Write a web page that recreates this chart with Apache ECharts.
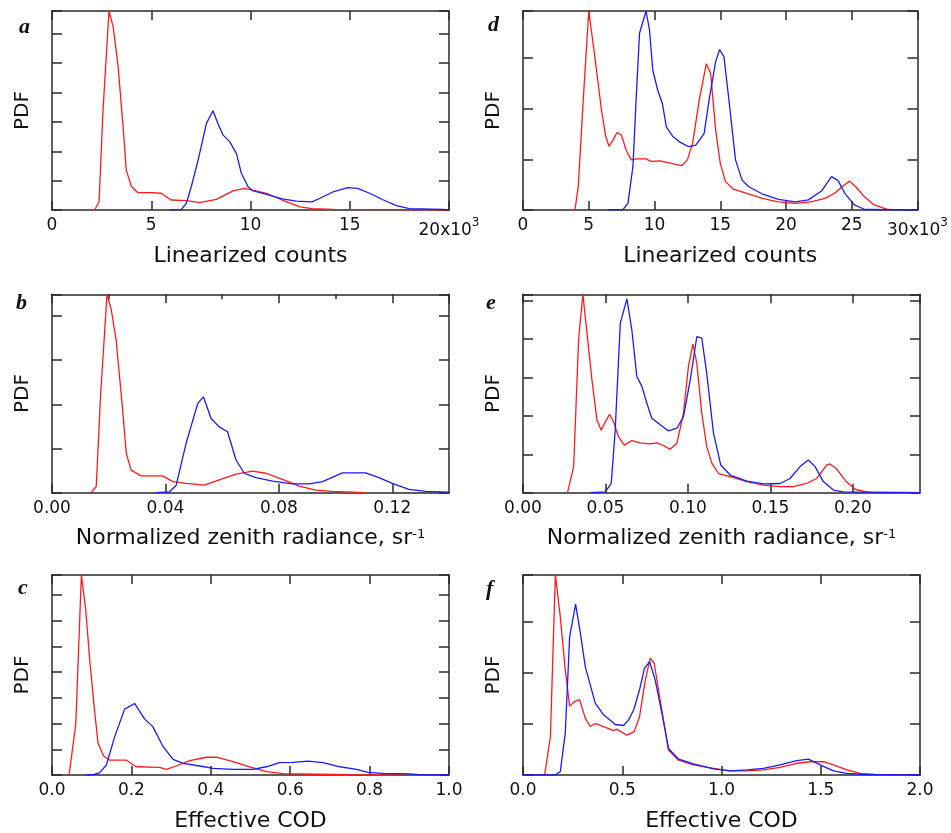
<!DOCTYPE html>
<html><head><meta charset="utf-8">
<script src="https://cdn.jsdelivr.net/npm/echarts@6/dist/echarts.min.js"></script>
<style>html,body{margin:0;padding:0;background:#fff}#c{width:951px;height:833px}</style>
</head><body><div id="c"></div>
<script>
// ---------- data (x, PDF in tick units) ----------
const aRed = [[2.15,0],[2.37,0.28],[2.57,3.4],[2.87,6.78],[3.08,6.25],[3.33,4.9],[3.58,2.84],[3.74,1.36],[4.0,0.8],[4.33,0.59],[5.0,0.59],[5.5,0.57],[6.0,0.34],[6.77,0.32],[7.44,0.25],[8.28,0.36],[9.12,0.65],[9.7,0.74],[10.1,0.68],[10.8,0.57],[11.6,0.34],[12.5,0.11],[13.1,0.05],[14.2,0.02],[15.8,0.01],[17.5,0.01],[20,0]];
const aBlue = [[5.93,0],[6.52,0.02],[6.77,0.23],[7.02,0.8],[7.36,1.7],[7.78,2.95],[8.11,3.38],[8.36,2.95],[8.61,2.56],[8.95,2.33],[9.29,1.93],[9.54,1.25],[9.87,0.8],[10.1,0.66],[10.8,0.53],[11.6,0.38],[12.3,0.3],[13.1,0.28],[13.5,0.4],[14.2,0.63],[14.9,0.76],[15.4,0.74],[16.0,0.57],[16.7,0.34],[17.35,0.15],[18.0,0.05],[19.7,0.02],[20,0]];
const dRed = [[3.95,0],[4.2,0.46],[4.58,2.17],[5.0,3.93],[5.46,3.03],[5.97,1.97],[6.29,1.45],[6.54,1.26],[6.85,1.38],[7.15,1.53],[7.48,1.48],[7.85,1.18],[8.23,0.99],[8.6,1.01],[9.36,1.01],[9.74,0.96],[10.4,0.97],[11.1,0.93],[12.06,0.875],[12.5,0.99],[12.9,1.32],[13.4,2.17],[13.94,2.89],[14.27,2.7],[14.65,1.58],[15.0,0.92],[15.4,0.56],[16.0,0.41],[16.9,0.34],[18.2,0.23],[19.4,0.16],[20.7,0.13],[21.9,0.16],[22.95,0.23],[23.7,0.33],[24.3,0.47],[24.84,0.57],[25.3,0.46],[25.97,0.26],[26.7,0.1],[27.6,0.02],[28,0]];
const dBlue = [[6.47,0],[7.6,0.01],[7.98,0.13],[8.36,0.86],[8.6,2.17],[8.86,3.49],[9.36,3.93],[9.62,3.55],[9.87,2.76],[10.24,2.37],[10.6,2.1],[10.9,1.64],[11.4,1.45],[12.0,1.33],[12.6,1.25],[13.14,1.28],[13.77,1.51],[14.15,2.17],[14.65,2.93],[14.95,3.17],[15.28,3.03],[15.66,2.17],[16.16,0.99],[16.66,0.59],[17.17,0.46],[18.17,0.32],[19.43,0.21],[20.7,0.16],[21.7,0.2],[22.7,0.375],[23.46,0.66],[23.96,0.58],[24.47,0.33],[25.2,0.1],[26.0,0.01],[30,0]];
const bRed = [[0.0138,0],[0.0156,0.14],[0.0171,2.17],[0.0194,4.49],[0.0209,4.14],[0.0226,3.46],[0.0248,1.95],[0.0262,0.89],[0.0279,0.51],[0.0314,0.38],[0.039,0.38],[0.0426,0.25],[0.0473,0.21],[0.0537,0.17],[0.059,0.29],[0.0649,0.42],[0.0707,0.49],[0.0754,0.44],[0.0813,0.3],[0.0872,0.15],[0.093,0.06],[0.0989,0.03],[0.106,0.015],[0.11,0]];
const bBlue = [[0.0367,0],[0.0414,0.02],[0.0438,0.17],[0.0473,1.12],[0.0514,2.02],[0.0534,2.17],[0.0561,1.68],[0.059,1.49],[0.0619,1.38],[0.0649,0.74],[0.0678,0.44],[0.0719,0.34],[0.0778,0.26],[0.0848,0.2],[0.0907,0.2],[0.0954,0.25],[0.1024,0.45],[0.1106,0.45],[0.1153,0.34],[0.12,0.21],[0.1259,0.075],[0.1317,0.03],[0.14,0.015]];
const eRed = [[0.027,0],[0.0307,0.68],[0.0337,3.98],[0.0363,5.17],[0.0388,4.16],[0.0418,2.94],[0.0448,1.9],[0.0474,1.63],[0.0499,1.85],[0.0525,2.04],[0.0549,1.85],[0.0579,1.46],[0.0614,1.24],[0.066,1.36],[0.0711,1.3],[0.0771,1.27],[0.0812,1.3],[0.0852,1.23],[0.0892,1.13],[0.0933,1.29],[0.0973,2.07],[0.1003,3.29],[0.103,3.87],[0.1054,3.37],[0.1084,2.07],[0.1114,1.2],[0.1145,0.77],[0.1185,0.5],[0.1256,0.42],[0.1357,0.29],[0.1458,0.2],[0.1559,0.16],[0.164,0.16],[0.172,0.24],[0.178,0.37],[0.1841,0.72],[0.186,0.75],[0.19,0.63],[0.196,0.29],[0.2013,0.09],[0.208,0.02],[0.2114,0]];
const eBlue = [[0.0408,0],[0.0499,0.02],[0.0535,0.24],[0.0559,1.63],[0.059,4.42],[0.063,5.05],[0.066,4.24],[0.069,3.03],[0.0721,2.77],[0.0751,2.33],[0.0781,1.94],[0.0832,1.77],[0.0882,1.61],[0.0933,1.68],[0.0973,1.98],[0.1014,2.94],[0.1054,4.07],[0.1084,4.03],[0.1114,3.11],[0.1155,1.55],[0.1199,0.72],[0.1256,0.46],[0.1357,0.3],[0.1458,0.23],[0.1559,0.24],[0.1619,0.37],[0.168,0.68],[0.173,0.85],[0.1771,0.68],[0.1821,0.29],[0.1882,0.07],[0.1942,0.02],[0.2407,0]];
const cRed = [[0.043,0],[0.06,2.0],[0.074,7.77],[0.085,6.41],[0.095,4.47],[0.107,2.53],[0.116,1.23],[0.13,0.74],[0.145,0.58],[0.187,0.58],[0.212,0.32],[0.271,0.3],[0.288,0.22],[0.313,0.35],[0.347,0.56],[0.389,0.69],[0.414,0.69],[0.456,0.52],[0.498,0.32],[0.54,0.13],[0.582,0.05],[0.666,0.03],[0.75,0.01],[0.9,0]];
const cBlue = [[0.085,0],[0.107,0.02],[0.12,0.09],[0.137,0.39],[0.158,1.49],[0.183,2.56],[0.208,2.78],[0.233,2.18],[0.254,1.88],[0.28,1.1],[0.305,0.61],[0.33,0.45],[0.372,0.35],[0.406,0.26],[0.456,0.22],[0.506,0.22],[0.54,0.32],[0.573,0.48],[0.607,0.49],[0.645,0.54],[0.683,0.48],[0.725,0.32],[0.767,0.22],[0.796,0.1],[0.834,0.06],[0.9,0.04],[0.926,0.01],[1.0,0]];
const fRed = [[0.109,0],[0.138,0.75],[0.163,3.92],[0.188,3.1],[0.213,2.06],[0.235,1.35],[0.26,1.44],[0.285,1.48],[0.314,1.11],[0.339,0.95],[0.364,1.01],[0.406,0.95],[0.456,0.87],[0.473,0.9],[0.523,0.78],[0.56,0.85],[0.587,1.14],[0.616,1.86],[0.641,2.29],[0.661,2.19],[0.691,1.47],[0.733,0.49],[0.784,0.29],[0.859,0.2],[0.96,0.13],[1.044,0.08],[1.128,0.08],[1.211,0.1],[1.295,0.15],[1.379,0.23],[1.446,0.26],[1.513,0.26],[1.564,0.2],[1.631,0.1],[1.698,0.03],[1.773,0.01],[1.78,0]];
const fBlue = [[0,0],[0.163,0],[0.188,0.07],[0.213,0.82],[0.235,2.71],[0.265,3.35],[0.289,2.78],[0.314,2.12],[0.364,1.41],[0.406,1.18],[0.465,0.99],[0.507,0.97],[0.532,1.08],[0.557,1.27],[0.587,1.67],[0.612,2.09],[0.638,2.22],[0.666,1.86],[0.7,1.21],[0.733,0.52],[0.784,0.31],[0.859,0.22],[0.96,0.12],[1.044,0.08],[1.128,0.1],[1.211,0.13],[1.295,0.2],[1.379,0.28],[1.438,0.31],[1.497,0.2],[1.564,0.08],[1.631,0.03],[1.715,0.01],[2.0,0]];

// axis ranges [min, max, interval]
const aX = [0, 20, 5], dX = [0, 30, 5], bX = [0, 0.14, 0.04], eX = [0, 0.2407, 0.05], cX = [0, 1.0, 0.2], fX = [0, 2.0, 0.5];
const yMaxes = { a: 6.78, d: 3.93, b: 4.49, e: 5.17, c: 7.77, f: 3.92 };
const xTitles = { a: 'Linearized counts', d: 'Linearized counts', b: 'Normalized zenith radiance, sr{sup|-1}', e: 'Normalized zenith radiance, sr{sup|-1}', c: 'Effective COD', f: 'Effective COD' };
const letters = ['a', 'd', 'b', 'e', 'c', 'f'];

// ---------- layout ----------
const panels = [
  { k: 'a', g: [52, 11, 397, 199], x: aX, red: aRed, blue: aBlue, fmt: v => v === 20 ? '{n|20x10}{s|3}' : String(v), showMax: true, L: [19, 16] },
  { k: 'd', g: [523, 11, 397, 199], x: dX, red: dRed, blue: dBlue, fmt: v => v === 30 ? '{n|30x10}{s|3}' : String(v), showMax: true, L: [488, 14] },
  { k: 'b', g: [52, 294.3, 397, 198.4], x: bX, red: bRed, blue: bBlue, fmt: v => v.toFixed(2), showMax: false, L: [16, 292] },
  { k: 'e', g: [523, 294.3, 397, 198.4], x: eX, red: eRed, blue: eBlue, fmt: v => v.toFixed(2), showMax: false, L: [486, 292] },
  { k: 'c', g: [52, 575, 397, 200], x: cX, red: cRed, blue: cBlue, fmt: v => v.toFixed(1), showMax: true, L: [18, 577] },
  { k: 'f', g: [523, 575, 397, 200], x: fX, red: fRed, blue: fBlue, fmt: v => v.toFixed(1), showMax: true, L: [486, 578] }
];

const AX = '#2a2a2a';
const lineStyle = { color: AX, width: 1.5 };
const axLine = { show: true, onZero: false, lineStyle };
const grids = [], xAxes = [], yAxes = [], series = [], titles = [];

panels.forEach((p, i) => {
  grids.push({ left: p.g[0], top: p.g[1], width: p.g[2], height: p.g[3] });
  xAxes.push({
    type: 'value', gridIndex: i, position: 'bottom', min: p.x[0], max: p.x[1], interval: p.x[2],
    axisLine: axLine, splitLine: { show: false },
    axisTick: { show: true, inside: true, length: 9, lineStyle },
    axisLabel: {
      show: true, margin: 7, showMaxLabel: p.showMax, showMinLabel: true,
      fontFamily: 'DejaVu Sans', fontSize: 17, color: '#111', formatter: p.fmt,
      rich: { n: { fontFamily: 'DejaVu Sans', fontSize: 17, color: '#111', padding: [5, 0, 0, 0] },
              s: { fontFamily: 'DejaVu Sans', fontSize: 12, color: '#111', verticalAlign: 'top' } }
    },
    name: xTitles[p.k], nameLocation: 'middle', nameGap: 35,
    nameTextStyle: { fontFamily: 'DejaVu Sans', fontSize: 22, color: '#111',
      rich: { sup: { fontFamily: 'DejaVu Sans', fontSize: 13, color: '#111', verticalAlign: 'top' } } }
  });
  xAxes.push({
    type: 'value', gridIndex: i, position: 'top', min: p.x[0], max: p.x[1], interval: p.x[2],
    axisLine: axLine, splitLine: { show: false },
    axisTick: { show: true, inside: true, length: 9, lineStyle },
    axisLabel: { show: false }
  });
  const ym = yMaxes[p.k];
  yAxes.push({
    type: 'value', gridIndex: i, position: 'left', min: 0, max: ym, interval: 1,
    axisLine: axLine, splitLine: { show: false },
    axisTick: { show: true, inside: true, length: 10, lineStyle },
    axisLabel: { show: false },
    name: 'PDF', nameLocation: 'middle', nameGap: 19,
    nameTextStyle: { fontFamily: 'DejaVu Sans', fontSize: 20, color: '#111' }
  });
  yAxes.push({
    type: 'value', gridIndex: i, position: 'right', min: 0, max: ym, interval: 1,
    axisLine: axLine, splitLine: { show: false },
    axisTick: { show: true, inside: true, length: 10, lineStyle },
    axisLabel: { show: false }
  });
  series.push({ type: 'line', xAxisIndex: 2 * i, yAxisIndex: 2 * i, data: p.red, showSymbol: false, symbol: 'none',
    lineStyle: { color: '#ff1a1a', width: 1.3 }, itemStyle: { color: '#ff1a1a' }, animation: false, silent: true, z: 3 });
  series.push({ type: 'line', xAxisIndex: 2 * i, yAxisIndex: 2 * i, data: p.blue, showSymbol: false, symbol: 'none',
    lineStyle: { color: '#1a1aff', width: 1.3 }, itemStyle: { color: '#1a1aff' }, animation: false, silent: true, z: 3 });
  titles.push({ text: letters[i], left: p.L[0], top: p.L[1], padding: 0,
    textStyle: { fontFamily: 'Liberation Serif', fontStyle: 'italic', fontWeight: 'bold', fontSize: 22, color: '#111' } });
});

// extra grid over panel b for its short top ticks at 0.02 steps
const bIdx = 2;
grids.push({ left: panels[bIdx].g[0], top: panels[bIdx].g[1], width: panels[bIdx].g[2], height: panels[bIdx].g[3] });
xAxes.push({ type: 'value', gridIndex: 6, position: 'top', min: bX[0], max: bX[1], interval: 0.02,
  axisLine: { show: false, onZero: false }, splitLine: { show: false },
  axisTick: { show: true, inside: true, length: 5, lineStyle }, axisLabel: { show: false } });
yAxes.push({ type: 'value', gridIndex: 6, min: 0, max: 1, show: false });

const chart = echarts.init(document.getElementById('c'), null, { renderer: 'canvas' });
chart.setOption({
  animation: false,
  backgroundColor: '#fff',
  title: titles,
  grid: grids,
  xAxis: xAxes,
  yAxis: yAxes,
  series: series
});
</script>
</body></html>
